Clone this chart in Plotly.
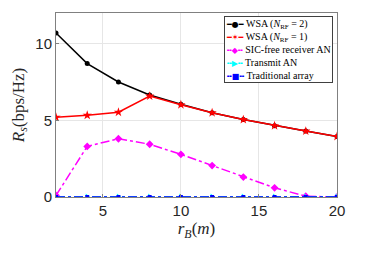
import plotly.graph_objects as go

x = [2, 4, 6, 8, 10, 12, 14, 16, 18, 20]
wsa2 = [10.7, 8.7, 7.5, 6.65, 6.05, 5.5, 5.05, 4.65, 4.3, 3.95]
wsa1 = [5.2, 5.33, 5.53, 6.58, 6.02, 5.5, 5.05, 4.65, 4.3, 3.95]
sic = [0.1, 3.3, 3.8, 3.44, 2.78, 2.05, 1.3, 0.6, 0.05, 0.0]
tan = [0, 0, 0, 0, 0, 0, 0, 0, 0, 0]
trad = [0, 0, 0, 0, 0, 0, 0, 0, 0, 0]

names = ["WSA (<i>N</i><sub>RF</sub> = 2)", "WSA (<i>N</i><sub>RF</sub> = 1)",
         "SIC-free receiver AN", "Transmit AN", "Traditional array"]
colors = ["black", "red", "magenta", "cyan", "blue"]
symbols = ["circle", "star", "diamond", "triangle-right", "square"]
glyphs = ["━●━", "━✶━", "╍◆╍", "╍▶╍", "╍■╍"]
dashes = ["solid", "solid", "dashdot", "dashdot", "dashdot"]
msizes = [5, 7, 6, 6, 4]
series = [wsa2, wsa1, sic, tan, trad]

fig = go.Figure()
for nm, ys, c, s, d, ms in zip(names, series, colors, symbols, dashes, msizes):
    fig.add_trace(go.Scatter(x=x, y=ys, name=nm, mode="lines+markers", showlegend=False,
                             line=dict(color=c, width=1.5, dash=d),
                             marker=dict(symbol=s, size=ms, color=c)))

legend_lines = []
for nm, c, g in zip(names, colors, glyphs):
    legend_lines.append(
        f'<span style="color:{c};font-family:DejaVu Sans;font-size:8px">{g}</span> {nm}')
legend_text = "<br>".join(legend_lines)

axis_common = dict(showline=True, linecolor="#808080", linewidth=1, mirror=True,
                   showgrid=True, gridcolor="#e6e6e6", zeroline=False,
                   ticks="inside", ticklen=3, tickcolor="#808080", automargin=False,
                   tickfont=dict(family="Liberation Sans, Arial", size=15, color="#262626"))

fig.update_layout(
    width=366, height=254,
    margin=dict(l=48, r=37, t=5, b=65),
    paper_bgcolor="white", plot_bgcolor="white",
    showlegend=False,
    annotations=[dict(text=legend_text, xref="paper", yref="paper", x=0.986, y=0.984,
                      xanchor="right", yanchor="top", align="left", showarrow=False,
                      bgcolor="white", bordercolor="#404040", borderwidth=1, borderpad=1,
                      font=dict(family="Liberation Serif, DejaVu Serif", size=10, color="black"))],
    xaxis=dict(range=[2, 20], tickvals=[5, 10, 15, 20],
               title=dict(text="<i>r</i><sub><i>B</i></sub>(<i>m</i>)",
                          font=dict(family="Liberation Serif, DejaVu Serif", size=17, color="#262626"),
                          standoff=2),
               **axis_common),
    yaxis=dict(range=[0, 12], tickvals=[0, 5, 10],
               title=dict(text="<i>R</i><sub><i>s</i></sub>(bps/Hz)",
                          font=dict(family="Liberation Serif, DejaVu Serif", size=17, color="#262626"),
                          standoff=6),
               **axis_common),
)

fig.write_html("out.html")
